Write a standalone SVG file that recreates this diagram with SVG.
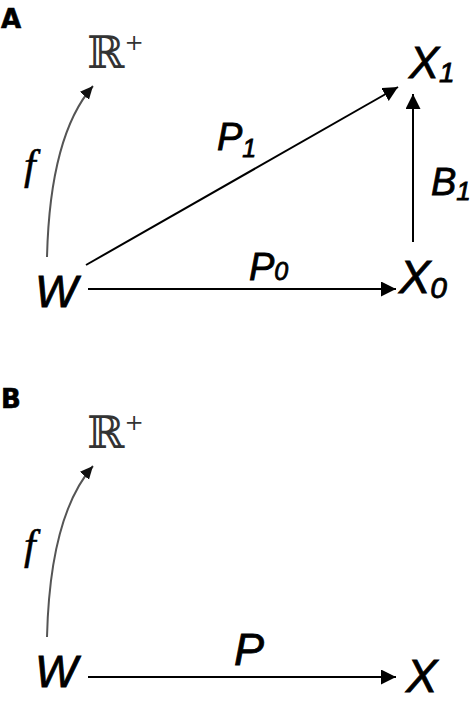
<svg xmlns="http://www.w3.org/2000/svg" width="475" height="704" viewBox="0 0 475 704">
<style>
.lbl{font-family:"Liberation Sans",Arial,sans-serif;font-style:italic;fill:#000;stroke:#000;stroke-width:0.8}
.panel{font-family:"DejaVu Sans","Liberation Sans",sans-serif;font-weight:bold;font-size:26px;fill:#000;stroke:#000;stroke-width:0.6}
.real{font-family:"DejaVu Serif","DejaVu Sans",serif;fill:#333}
.fl{font-family:"Liberation Serif","Times New Roman",serif;font-style:italic;font-size:42px;fill:#000;stroke:#000;stroke-width:0.5}
.arr{stroke:#000;stroke-width:2;fill:none;marker-end:url(#ah)}
.arc{stroke:#555;stroke-width:2;fill:none;marker-end:url(#ahg)}
</style>
<defs>
<marker id="ah" markerUnits="userSpaceOnUse" markerWidth="16" markerHeight="16" refX="15" refY="7.5" orient="auto">
<path d="M0,0 L15,7.5 L0,15 Z" fill="#000"/>
</marker>
<marker id="ahg" markerUnits="userSpaceOnUse" markerWidth="14" markerHeight="14" refX="13" refY="6" orient="auto">
<path d="M0,0 L13,6 L0,12 Z" fill="#111"/>
</marker>
</defs>
<rect width="475" height="704" fill="#fff"/>
<text class="panel" x="1" y="28">A</text>
<text class="panel" x="1" y="408">B</text>
<g id="connectors">
<path class="arc" d="M47,257 Q50,135 93,86"/>
<line class="arr" x1="88" y1="289" x2="396" y2="289"/>
<line class="arr" x1="86" y1="265" x2="398" y2="87"/>
<line class="arr" x1="413" y1="242" x2="413" y2="94"/>
<path class="arc" d="M47,637 Q50,515 93,466"/>
<line class="arr" x1="88" y1="677" x2="396" y2="677"/>
</g>
<g id="A-R"><text class="real" x="87" y="68" font-size="45">ℝ<tspan font-size="23" dy="-18">+</tspan></text></g>
<g id="A-f"><text class="fl" x="24" y="179">f</text></g>
<g id="A-W"><text class="lbl" x="35" y="307" font-size="45">W</text></g>
<g id="A-X0"><text class="lbl" x="399" y="293" font-size="47">X<tspan font-size="30" dy="5">0</tspan></text></g>
<g id="A-X1"><text class="lbl" x="409" y="78" font-size="45">X<tspan font-size="28" dy="4">1</tspan></text></g>
<g id="A-P0"><text class="lbl" x="249" y="280" font-size="38">P<tspan font-size="25" dy="0">0</tspan></text></g>
<g id="A-P1"><text class="lbl" x="217" y="150" font-size="38">P<tspan font-size="25" dy="7">1</tspan></text></g>
<g id="A-B1"><text class="lbl" x="431" y="195" font-size="38">B<tspan font-size="26" dy="5">1</tspan></text></g>
<g id="B-R"><text class="real" x="87" y="448" font-size="45">ℝ<tspan font-size="23" dy="-18">+</tspan></text></g>
<g id="B-f"><text class="fl" x="24" y="559">f</text></g>
<g id="B-W"><text class="lbl" x="35" y="687" font-size="45">W</text></g>
<g id="B-P"><text class="lbl" x="234" y="665" font-size="45">P</text></g>
<g id="B-X"><text class="lbl" x="406" y="692" font-size="47">X</text></g>
</svg>
